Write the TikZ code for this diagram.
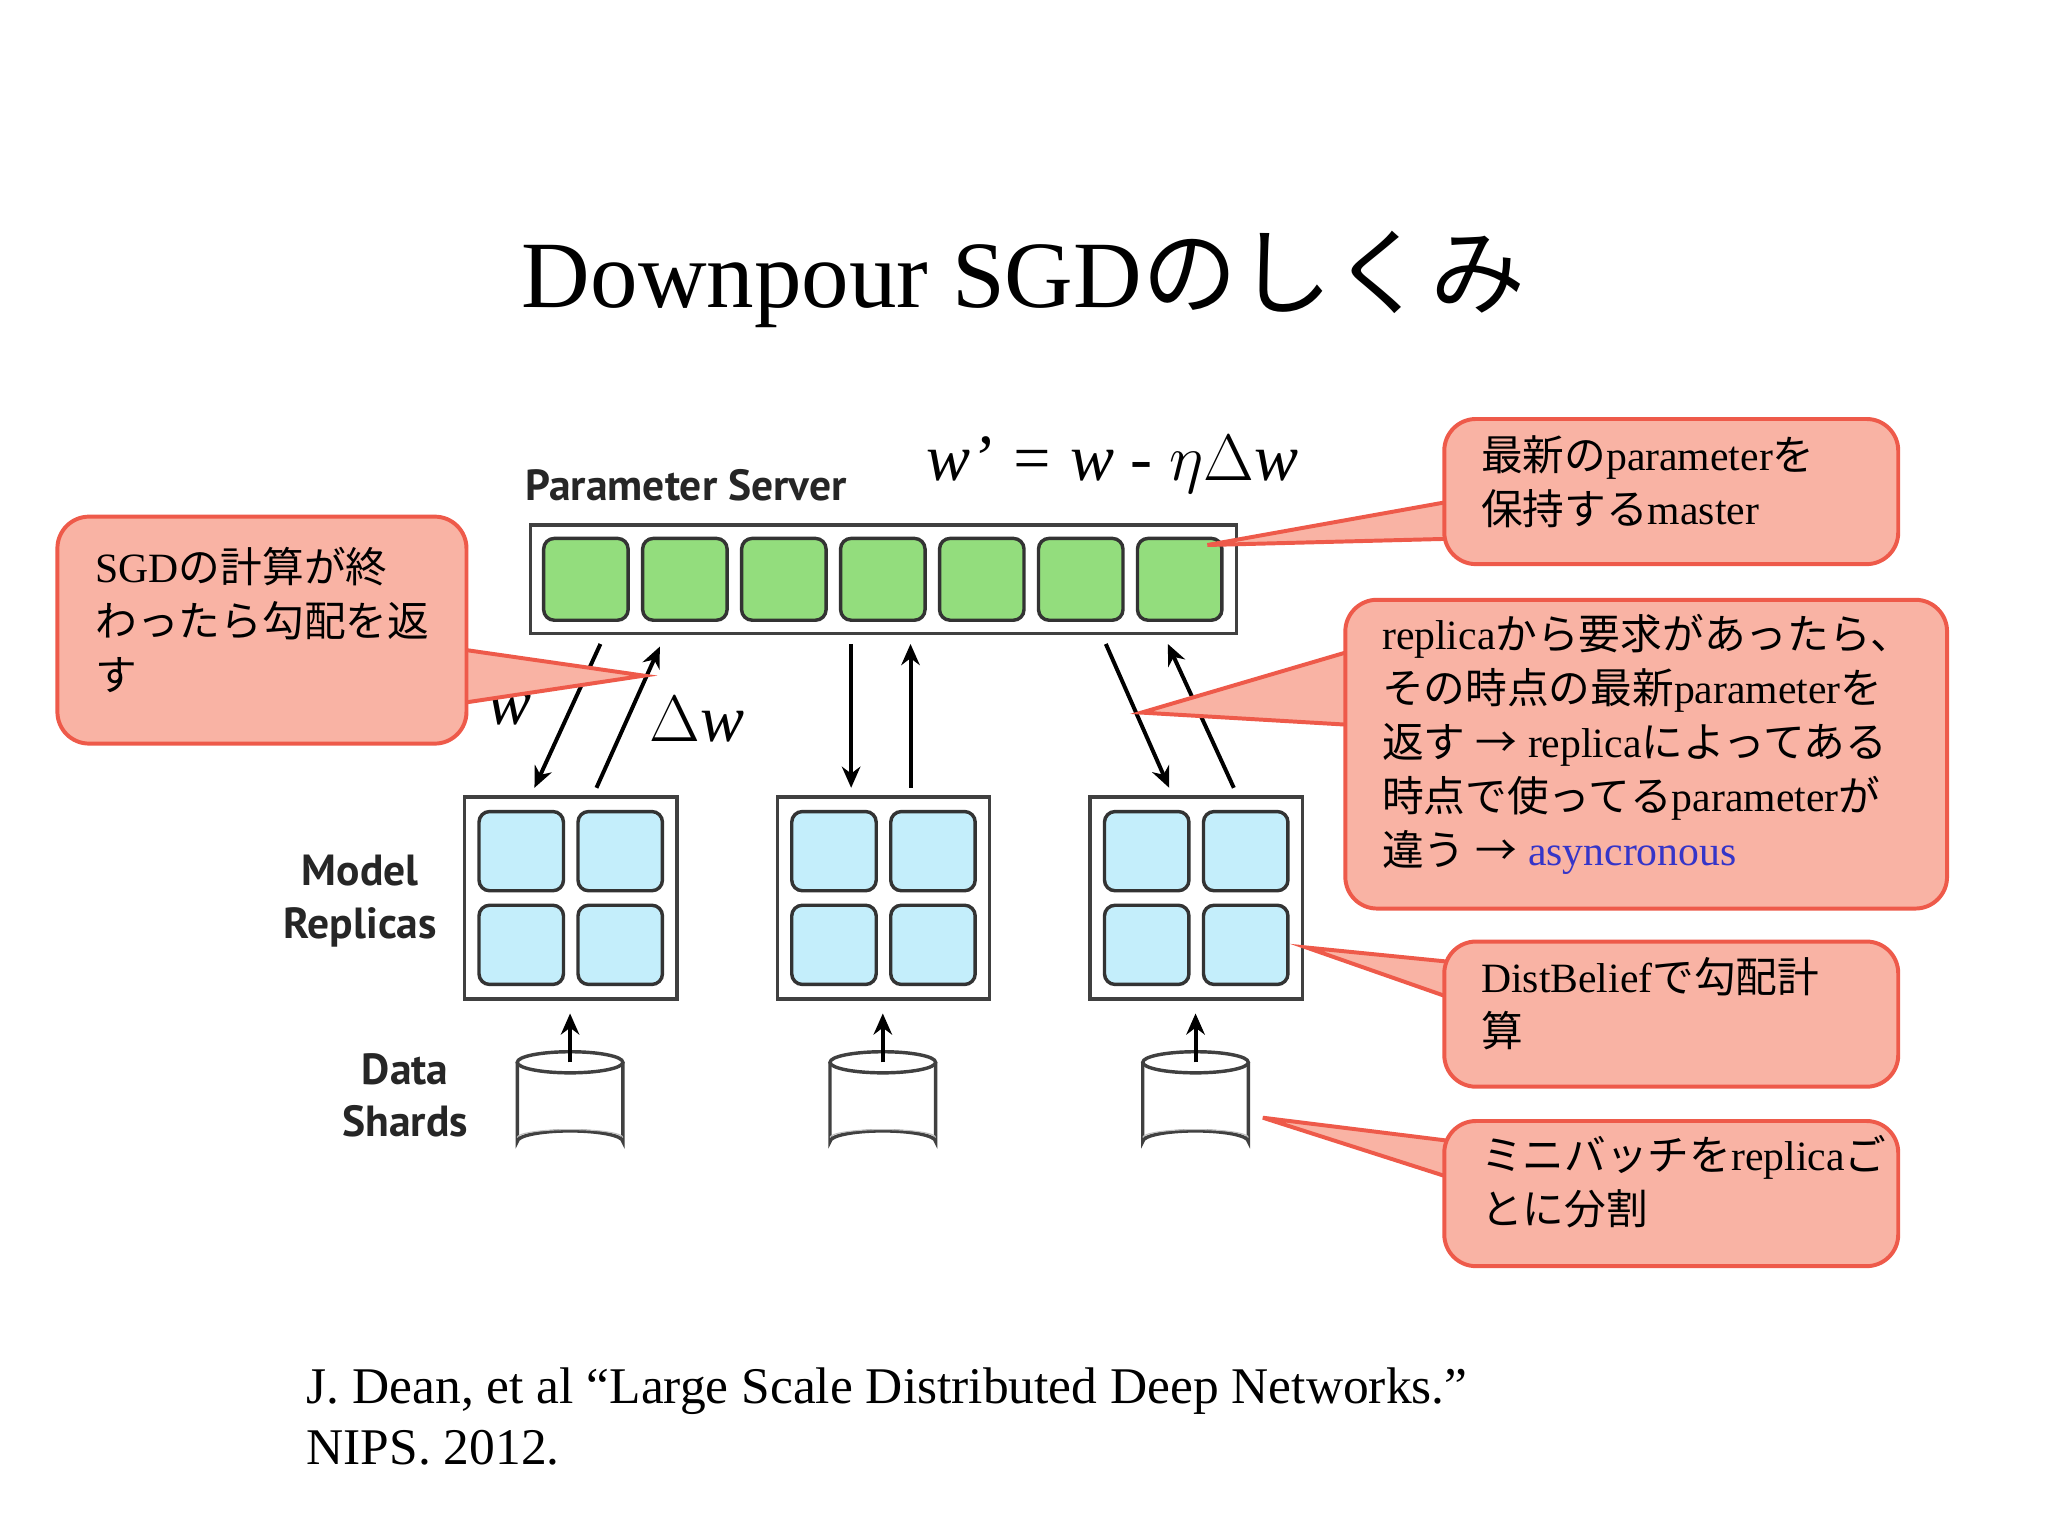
\documentclass[tikz,border=0pt]{standalone}
\usepackage{fontspec}
\setmainfont{Liberation Serif}
\newfontfamily\cjk{Noto Sans CJK JP}
\newfontfamily\gs{PT Sans}
\newcommand\jp[1]{{\cjk #1}}
\definecolor{cofill}{HTML}{F9B3A4}
\definecolor{codraw}{HTML}{EE5A4A}
\definecolor{gr}{HTML}{93DD7D}
\definecolor{bl}{HTML}{C4EEFB}
\definecolor{async}{HTML}{3535C8}
\tikzset{
 cobox/.style={draw=codraw,fill=cofill,line width=1.5pt,rounded corners=12pt,anchor=north west,inner sep=0pt},
 cotxt/.style={anchor=north west,align=left,font=\fontsize{15.8}{20.5}\selectfont,inner sep=0pt},
 wedge/.style={draw=codraw,fill=cofill,line width=1.5pt},
 gsq/.style={draw=black!80,fill=gr,line width=1.3pt,rounded corners=4pt,minimum width=32pt,minimum height=31pt,inner sep=0pt},
 bsq/.style={draw=black!80,fill=bl,line width=1.3pt,rounded corners=4pt,minimum width=32pt,minimum height=30pt,inner sep=0pt},
 frame/.style={draw=black!75,line width=1.3pt,fill=white},
 arr/.style={-{Stealth[length=8pt,width=7pt]},line width=1.5pt},
 lbl/.style={font=\gs\bfseries\fontsize{16.5}{20}\selectfont,align=center,text=black!85}
}
\usetikzlibrary{arrows.meta}
\begin{document}
\begin{tikzpicture}[x=0.5pt,y=-0.5pt]
\useasboundingbox[fill=white] (0,0) rectangle (1552,1164);
\node (title) at (776,212) {\fontsize{36}{42}\selectfont Downpour SGD\jp{のしくみ}};
\node[lbl] (ps) at (520,368) {Parameter Server};
\node (eq) at (843,352) {\fontsize{25}{28}\selectfont\itshape w’ = w - $\eta\Delta$w};
% server
\draw[frame] (402,398) rectangle (937,480);
\foreach \i/\x in {1/444,2/519,3/594,4/669,5/744,6/819,7/894}
  \node[gsq] (g\i) at (\x,439) {};
% replicas
\foreach \r/\x in {1/352,2/589,3/826}{
  \draw[frame] (\x,604) rectangle ++(161,153);
  \node[bsq] (b\r a) at (\x+43,645) {};
  \node[bsq] (b\r b) at (\x+118,645) {};
  \node[bsq] (b\r c) at (\x+43,716) {};
  \node[bsq] (b\r d) at (\x+118,716) {};
  \coordinate (ct\r) at (\x+80,805);
  \draw[line width=1.3pt,black!75,fill=white] (\x+40,805) -- (\x+40,865) arc[start angle=180,end angle=360,x radius=40,y radius=8] -- (\x+120,805);
  \draw[line width=1.3pt,black!75,fill=white] (\x+80,805) ellipse[x radius=40,y radius=8];
  \draw[black!25] (\x+40,862) arc[start angle=180,end angle=360,x radius=40,y radius=6];
  \coordinate (ab\r) at (\x+80,768);
  \draw[arr] (ct\r) -- (ab\r);
}
\coordinate (p1a) at (455,488); \coordinate (p1b) at (405,597);
\coordinate (p1c) at (452,597); \coordinate (p1d) at (500,490);
\coordinate (p2a) at (645,488); \coordinate (p2b) at (645,597);
\coordinate (p2c) at (690,597); \coordinate (p2d) at (690,488);
\coordinate (p3a) at (838,488); \coordinate (p3b) at (886,597);
\coordinate (p3c) at (935,597); \coordinate (p3d) at (885,488);
\foreach \k in {1,2,3}{\draw[arr] (p\k a) -- (p\k b); \draw[arr] (p\k c) -- (p\k d);}
\node (lw) at (386,538) {\fontsize{25}{28}\selectfont\itshape w};
\node (ldw) at (528,545) {\fontsize{25}{28}\selectfont $\Delta$\textit{w}};
\node[lbl] (mr) at (273,683) {Model\\Replicas};
\node[lbl] (ds) at (307,830) {Data\\Shards};
% callout 1
\coordinate (t1) at (915,413);
\draw[wedge] (1110,378) -- (t1) -- (1110,408) -- cycle;
\node[cobox,minimum width=172pt,minimum height=55pt] (c1) at (1093,316) {};
\node[cotxt] (c1t) at (1122,330) {\jp{最新の}parameter\jp{を}\\\jp{保持する}master};
% callout 2
\coordinate (t2) at (488,512);
\draw[wedge] (335,490) -- (t2) -- (335,535) -- cycle;
\node[cobox,minimum width=155pt,minimum height=86pt] (c2) at (42,390) {};
\node[cotxt] (c2t) at (72,414) {SGD\jp{の計算が終}\\\jp{わったら勾配を返}\\\jp{す}};
% callout 3
\coordinate (t3) at (865,540);
\draw[wedge] (1035,490) -- (t3) -- (1035,550) -- cycle;
\node[cobox,minimum width=228pt,minimum height=117pt] (c3) at (1018,453) {};
\node[cotxt] (c3t) at (1047,465) {replica\jp{から要求があったら、}\\\jp{その時点の最新}parameter\jp{を}\\\jp{返す} \jp{→} replica\jp{によってある}\\\jp{時点で使ってる}parameter\jp{が}\\\jp{違う} \jp{→} \textcolor{async}{asyncronous}};
% callout 4
\coordinate (t4) at (990,718);
\draw[wedge] (1110,730) -- (t4) -- (1110,760) -- cycle;
\node[cobox,minimum width=172pt,minimum height=55pt] (c4) at (1093,712) {};
\node[cotxt] (c4t) at (1122,725) {DistBelief\jp{で勾配計}\\\jp{算}};
% callout 5
\coordinate (t5) at (957,847);
\draw[wedge] (1110,866) -- (t5) -- (1110,896) -- cycle;
\node[cobox,minimum width=172pt,minimum height=55pt] (c5) at (1093,848) {};
\node[cotxt] (c5t) at (1122,860) {\jp{ミニバッチを}replica\jp{ご}\\\jp{とに分割}};
% citation
\node[anchor=north west,align=left,font=\fontsize{19.5}{23}\selectfont,inner sep=0pt] (cite) at (232,1036) {J. Dean, et al “Large Scale Distributed Deep Networks.”\\NIPS. 2012.};
\end{tikzpicture}
\end{document}
